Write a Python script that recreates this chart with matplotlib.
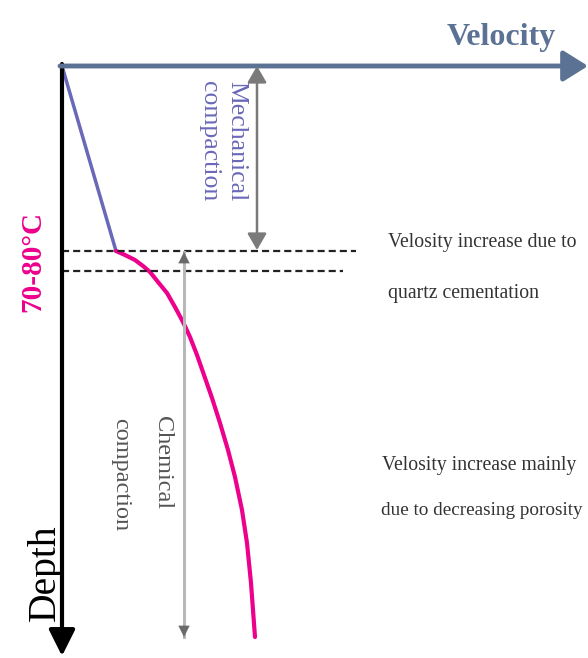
import matplotlib
matplotlib.use("Agg")
import matplotlib.pyplot as plt

plt.rcParams['font.family'] = ['Liberation Serif', 'DejaVu Serif']

# ---- data (velocity / depth in arbitrary schematic units, origin at top-left) ----
mech_v = [0, 54]
mech_d = [0, 185]
chem_v = [54, 63, 73, 81, 88, 96, 105, 113, 121, 128, 135, 142, 150, 158, 166, 173,
          180, 185, 189, 191, 193]
chem_d = [185, 189, 194, 200, 206, 216, 227, 241, 256, 271, 289, 309, 332, 357, 384, 411,
          444, 477, 517, 544, 571]
dash_depths = [185, 205]
dash_ends = [294, 281]
mech_arrow_v = 195
mech_arrow_d = [0, 184]
chem_arrow_v = 122
chem_arrow_d = [186, 571]
vel_axis_end = 526
depth_axis_end = 590

fig = plt.figure(figsize=(5.88, 6.58), dpi=100)
ax = fig.add_axes([0, 0, 1, 1])
ax.set_xlim(-62, 526)
ax.set_ylim(592, -66)
ax.axis('off')

vel_col = '#5b7294'
pink = '#ec008c'
purple = '#6a68b8'

# axes arrows
ax.annotate('', xy=(0, depth_axis_end), xytext=(0, -2),
            arrowprops=dict(arrowstyle='-|>,head_length=1.6,head_width=0.8',
                            mutation_scale=10, lw=3, color='black',
                            shrinkA=0, shrinkB=0))
ax.annotate('', xy=(vel_axis_end, 0), xytext=(-2, 0),
            arrowprops=dict(arrowstyle='-|>,head_length=1.5,head_width=0.94',
                            mutation_scale=10, lw=3.5, color=vel_col,
                            shrinkA=0, shrinkB=0))

# curves
ax.plot(mech_v, mech_d, color=purple, lw=2.5, solid_capstyle='round')
ax.plot(chem_v, chem_d, color=pink, lw=3, solid_capstyle='round', solid_joinstyle='round')

# dashed lines
for d, e in zip(dash_depths, dash_ends):
    ax.plot([0, e], [d, d], color='#222222', lw=1.6, linestyle=(0, (3.2, 1.8)))

# mechanical compaction arrow
ax.annotate('', xy=(mech_arrow_v, mech_arrow_d[0]), xytext=(mech_arrow_v, mech_arrow_d[1]),
            arrowprops=dict(arrowstyle='<|-|>,head_length=1.0,head_width=0.58',
                            mutation_scale=10, lw=1.8, color='#7a7a7a',
                            shrinkA=0, shrinkB=0))

# chemical compaction arrow (light shaft, darker heads)
ax.plot([chem_arrow_v, chem_arrow_v], chem_arrow_d, color='#b8b8b8', lw=2.2)
ax.annotate('', xy=(chem_arrow_v, chem_arrow_d[0]), xytext=(chem_arrow_v, chem_arrow_d[0] + 12),
            arrowprops=dict(arrowstyle='-|>,head_length=0.8,head_width=0.4',
                            mutation_scale=10, lw=0.1, color='#6a6a6a',
                            shrinkA=0, shrinkB=0))
ax.annotate('', xy=(chem_arrow_v, chem_arrow_d[1]), xytext=(chem_arrow_v, chem_arrow_d[1] - 12),
            arrowprops=dict(arrowstyle='-|>,head_length=0.8,head_width=0.4',
                            mutation_scale=10, lw=0.1, color='#6a6a6a',
                            shrinkA=0, shrinkB=0))

# texts
ax.text(385, -21, 'Velocity', fontsize=23, fontweight='bold', color=vel_col,
        ha='left', va='baseline')
ax.text(-29, 196, '70-80°C', fontsize=21, fontweight='bold', color=pink,
        rotation=90, ha='center', va='center')
ax.text(-17, 507, 'Depth', fontsize=28.5, color='black',
        rotation=90, ha='center', va='center')

ax.text(174, 75, 'Mechanical', fontsize=18.5, color=purple, rotation=-90,
        ha='center', va='center')
ax.text(147, 75, 'compaction', fontsize=18.5, color=purple, rotation=-90,
        ha='center', va='center')

ax.text(101, 397, 'Chemical', fontsize=17.5, color='#555555', rotation=-90,
        ha='center', va='center')
ax.text(59, 409, 'compaction', fontsize=17.5, color='#555555', rotation=-90,
        ha='center', va='center')

txt_col = '#333333'
ax.text(326, 181, 'Velosity increase due to', fontsize=14.2, color=txt_col, ha='left', va='baseline')
ax.text(326, 232, 'quartz cementation', fontsize=14.2, color=txt_col, ha='left', va='baseline')
ax.text(320, 404, 'Velosity increase mainly', fontsize=14.2, color=txt_col, ha='left', va='baseline')
ax.text(319, 449, 'due to decreasing porosity', fontsize=13.8, color=txt_col, ha='left', va='baseline')

fig.savefig('out.png', dpi=100)
